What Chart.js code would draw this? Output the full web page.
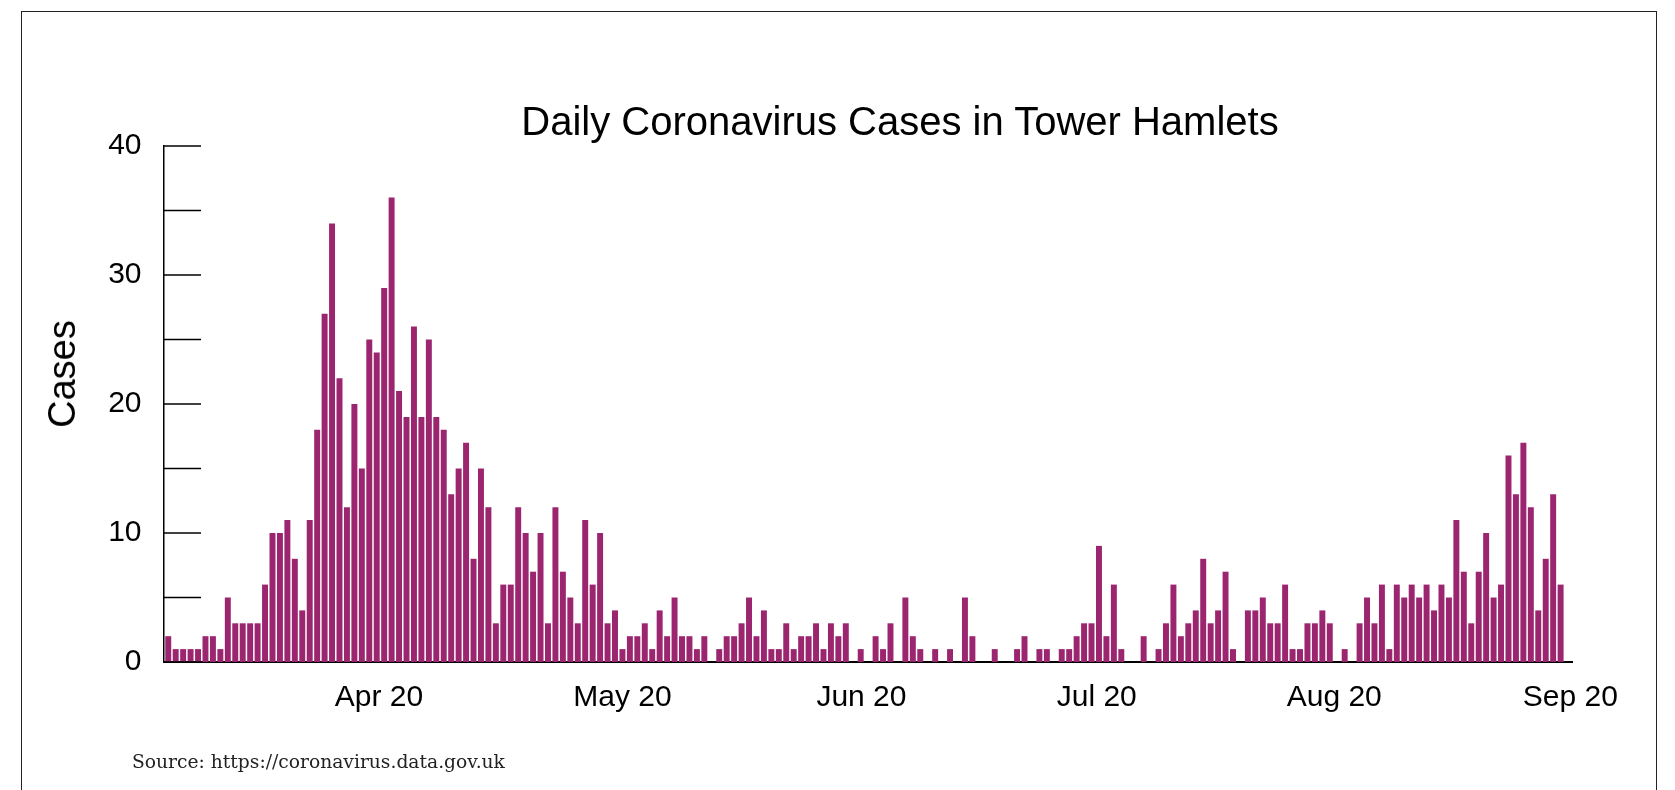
<!DOCTYPE html>
<html>
<head>
<meta charset="utf-8">
<script src="https://cdn.jsdelivr.net/npm/chart.js@4.4.1/dist/chart.umd.min.js"></script>
<style>
  body { margin: 0; background: #fff; width: 1675px; height: 790px; overflow: hidden; position: relative; font-family: "Liberation Sans", Arial, sans-serif; }
  #frame { position: absolute; left: 21px; top: 11px; width: 1634px; height: 820px; border: 1.5px solid #222; }
  #chart { position: absolute; left: 0; top: 0; }
  .title { position: absolute; left: 900px; top: 101px; transform: translateX(-50%); font-size: 40px; line-height: 1; white-space: nowrap; color: #000; }
  .ylabel { position: absolute; left: 62px; top: 374px; transform: translate(-50%, -50%) rotate(-90deg); font-size: 38px; line-height: 1; color: #000; }
  .source { position: absolute; left: 132px; top: 753px; font-family: "DejaVu Serif", serif; font-size: 18.7px; line-height: 1; color: #222; white-space: nowrap; }
</style>
</head>
<body>
<div id="frame"></div>
<canvas id="chart" width="1675" height="790"></canvas>
<div class="title">Daily Coronavirus Cases in Tower Hamlets</div>
<div class="ylabel">Cases</div>
<div class="source">Source: https://coronavirus.data.gov.uk</div>
<script>
// daily cases, one value per bar
const cases = [
  2, 1, 1, 1, 1, 2, 2, 1, 5, 3,
  3, 3, 3, 6, 10, 10, 11, 8, 4, 11,
  18, 27, 34, 22, 12, 20, 15, 25, 24, 29,
  36, 21, 19, 26, 19, 25, 19, 18, 13, 15,
  17, 8, 15, 12, 3, 6, 6, 12, 10, 7,
  10, 3, 12, 7, 5, 3, 11, 6, 10, 3,
  4, 1, 2, 2, 3, 1, 4, 2, 5, 2,
  2, 1, 2, 0, 1, 2, 2, 3, 5, 2,
  4, 1, 1, 3, 1, 2, 2, 3, 1, 3,
  2, 3, 0, 1, 0, 2, 1, 3, 0, 5,
  2, 1, 0, 1, 0, 1, 0, 5, 2, 0,
  0, 1, 0, 0, 1, 2, 0, 1, 1, 0,
  1, 1, 2, 3, 3, 9, 2, 6, 1, 0,
  0, 2, 0, 1, 3, 6, 2, 3, 4, 8,
  3, 4, 7, 1, 0, 4, 4, 5, 3, 3,
  6, 1, 1, 3, 3, 4, 3, 0, 1, 0,
  3, 5, 3, 6, 1, 6, 5, 6, 5, 6,
  4, 6, 5, 11, 7, 3, 7, 10, 5, 6,
  16, 13, 17, 12, 4, 8, 13, 6
]
const days = cases.map((_, i) => i + 1)

// month labels and where they sit along the day axis
const monthLabels = ["Apr 20", "May 20", "Jun 20", "Jul 20", "Aug 20", "Sep 20"]
const monthTickAt = [29.3, 62, 94.1, 125.7, 157.6, 189.3]

const yTickStep = 5

const FONT = "'Liberation Sans', Arial, sans-serif"

// short tick marks drawn inside the plot, off the y axis
const innerTicks = {
  id: 'innerTicks',
  afterDraw(chart) {
    const scale = chart.scales.y
    const left = chart.chartArea.left
    const c = chart.ctx
    c.save()
    c.strokeStyle = '#000'
    c.lineWidth = 1.5
    scale.ticks.forEach(t => {
      const py = scale.getPixelForValue(t.value)
      c.beginPath()
      c.moveTo(left, py)
      c.lineTo(left + 37, py)
      c.stroke()
    })
    c.restore()
  }
}

new Chart(document.getElementById('chart').getContext('2d'), {
  type: 'bar',
  data: {
    datasets: [{
      data: days.map((d, i) => ({ x: d, y: cases[i] })),
      backgroundColor: '#9c2570',
      barPercentage: 0.8,
      categoryPercentage: 1
    }]
  },
  options: {
    responsive: false,
    animation: false,
    devicePixelRatio: 1,
    layout: { padding: { top: 146, right: 103, bottom: 68, left: 0 } },
    plugins: {
      legend: { display: false },
      tooltip: { enabled: false }
    },
    scales: {
      x: {
        type: 'linear',
        offset: false,
        min: 0.43,
        max: 189.53,
        z: 1,
        grid: { display: false },
        border: { color: '#000', width: 2 },
        afterBuildTicks: (scale) => {
          scale.ticks = monthTickAt.map(v => ({ value: v }))
        },
        afterFit: (scale) => { scale.height = 60 },
        ticks: {
          autoSkip: false,
          maxRotation: 0,
          padding: 10,
          color: '#000',
          font: { family: FONT, size: 30 },
          callback: (value, index) => monthLabels[index]
        }
      },
      y: {
        min: 0,
        max: 40,
        grid: { display: false },
        border: { color: '#000', width: 1.5 },
        afterFit: (scale) => { scale.width = 164 },
        ticks: {
          stepSize: yTickStep,
          padding: 14.5,
          color: '#000',
          font: { family: FONT, size: 30 },
          callback: (value) => value % 10 === 0 ? value : ''
        }
      }
    }
  },
  plugins: [innerTicks]
})
</script>
</body>
</html>
